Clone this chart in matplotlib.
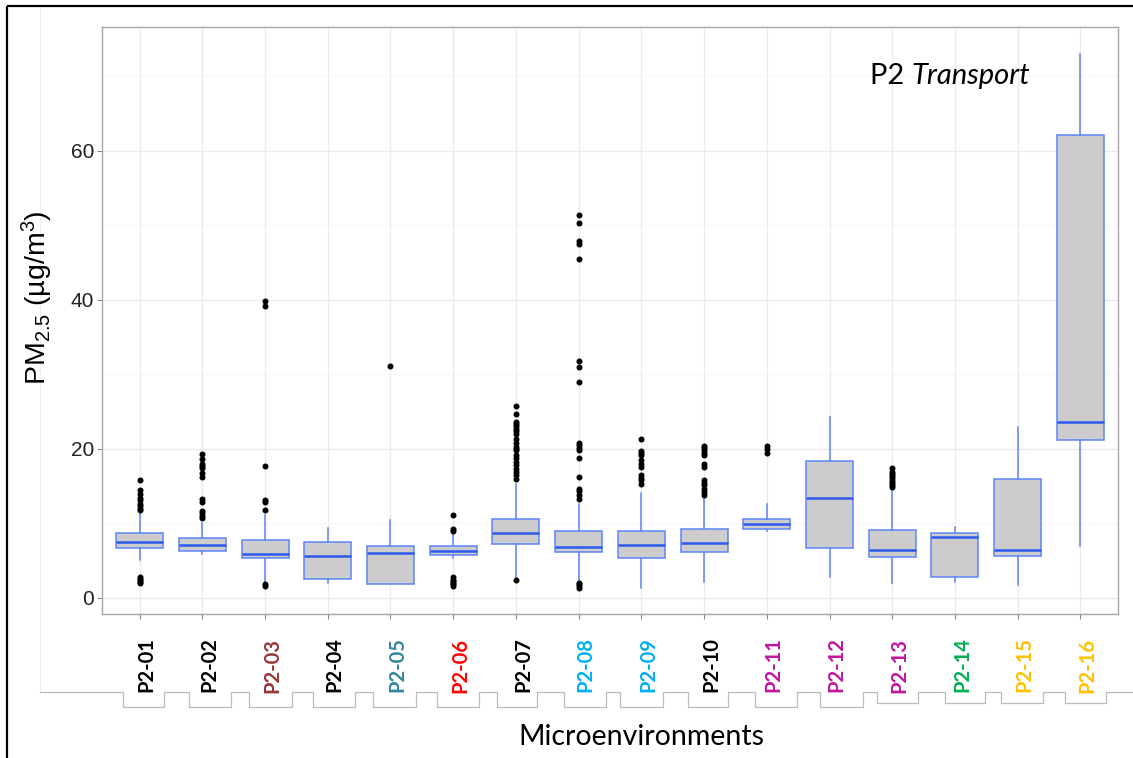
import numpy as np
import matplotlib
matplotlib.use("Agg")
import matplotlib.pyplot as plt
import matplotlib.transforms as mtransforms

plt.rcParams["mathtext.fontset"] = "custom"
plt.rcParams["mathtext.rm"] = "Liberation Sans"
plt.rcParams["mathtext.it"] = "Liberation Sans:italic"

# Microenvironment box statistics (PM2.5, ug/m3)
sites = ["P2-01", "P2-02", "P2-03", "P2-04", "P2-05", "P2-06", "P2-07", "P2-08",
         "P2-09", "P2-10", "P2-11", "P2-12", "P2-13", "P2-14", "P2-15", "P2-16"]
q1 = [6.62, 6.3, 5.3, 2.55, 1.79, 5.77, 7.16, 6.08, 5.28, 6.08, 9.2, 6.67, 5.41, 2.73, 5.64, 21.2]
med = [7.47, 7.1, 5.86, 5.64, 6.04, 6.3, 8.72, 6.85, 7.11, 7.38, 9.93, 13.33, 6.44, 8.19, 6.44, 23.6]
q3 = [8.64, 8.0, 7.7, 7.43, 6.9, 6.9, 10.56, 8.9, 8.9, 9.2, 10.56, 18.4, 9.08, 8.68, 15.97, 62.05]
whislo = [5.1, 5.8, 1.9, 2.0, 1.79, 5.37, 2.6, 1.9, 1.34, 2.1, 8.9, 2.77, 1.97, 2.1, 1.75, 6.9]
whishi = [11.4, 10.0, 11.1, 9.4, 10.47, 8.6, 15.3, 12.6, 14.1, 13.7, 12.6, 24.25, 14.6, 9.49, 22.9, 73.0]
fliers = [
    [15.75, 14.5, 13.9, 13.4, 13.1, 12.6, 12.3, 11.9, 11.7, 2.8, 2.5, 2.3, 2.1, 1.9],
    [19.3, 18.6, 18.0, 17.7, 17.4, 16.7, 16.2, 13.2, 12.9, 11.6, 11.3, 11.0, 10.7],
    [39.8, 39.2, 17.7, 13.1, 12.8, 11.8, 1.6, 1.8],
    [],
    [31.1],
    [11.1, 9.2, 8.9, 2.7, 2.4, 2.2, 2.0, 1.8, 1.6],
    [25.7, 24.7, 23.6, 23.3, 23.0, 22.7, 22.4, 22.0, 21.3, 20.7, 20.2, 20.0, 19.8,
     19.1, 18.7, 18.2, 17.8, 17.3, 16.9, 16.4, 15.9, 2.3],
    [51.4, 50.3, 47.9, 47.5, 45.5, 31.7, 31.0, 29.0, 20.8, 20.5, 20.1, 19.8, 18.7,
     16.2, 14.6, 14.3, 13.8, 13.3, 2.0, 1.8, 1.5, 1.3],
    [21.3, 19.7, 19.4, 19.1, 18.5, 18.0, 17.5, 16.4, 16.1, 15.75, 15.3],
    [20.4, 20.1, 19.8, 19.4, 19.1, 18.0, 17.6, 15.75, 15.4, 15.1, 14.6, 14.2, 13.8],
    [20.4, 20.0, 19.4],
    [],
    [17.4, 16.9, 16.6, 16.3, 16.0, 15.7, 15.4, 15.1, 14.8],
    [],
    [],
    [],
]
label_colors = ["#000000", "#000000", "#953735", "#000000", "#31859C", "#FF0000",
                "#000000", "#00B0F0", "#00B0F0", "#000000", "#C0169F", "#C0169F",
                "#C0169F", "#00B050", "#FFC000", "#FFC000"]
yticks = [0, 20, 40, 60]

W, H = 1133, 758
fig = plt.figure(figsize=(W / 100, H / 100), dpi=100)

# decorations of the pasted figure (frame, leftover lines)
deco = fig.add_axes([0, 0, 1, 1], zorder=0)
deco.set_xlim(0, W)
deco.set_ylim(H, 0)
deco.axis("off")
deco.plot([7, 7], [6, H], color="black", lw=1.6, solid_capstyle="butt")
deco.plot([7, W], [6, 6], color="black", lw=1.6, solid_capstyle="butt")
deco.plot([40, 40], [7, 692], color="#EEEEEE", lw=0.8)
steps = [40, 123, 164, 189, 231, 249, 292, 313, 355, 373, 416, 437, 479, 497, 537,
         564, 606, 620, 663, 688, 728, 755, 797, 820, 863, 877, 918, 945, 985,
         1001, 1043, 1065, 1106, 1133]
xs, ys = [], []
for i in range(len(steps) - 1):
    lev = 692 if i % 2 == 0 else (707 if steps[i] < 870 else 703)
    xs += [steps[i], steps[i + 1]]
    ys += [lev, lev]
deco.plot(xs, ys, color="#BBBBBB", lw=0.9)

ax = fig.add_axes([102 / W, (H - 614) / H, 1016 / W, 587 / H], zorder=1)
stats = []
for i in range(len(sites)):
    stats.append(dict(med=med[i], q1=q1[i], q3=q3[i], whislo=whislo[i],
                      whishi=whishi[i], fliers=fliers[i], label=sites[i]))
pos = np.arange(1, len(sites) + 1)
edge = "#5B85FA"
ax.bxp(stats, positions=pos, widths=0.75, patch_artist=True, showcaps=False,
       boxprops=dict(facecolor="#CCCCCC", edgecolor=edge, linewidth=1.1),
       whiskerprops=dict(color=edge, linewidth=1.1),
       medianprops=dict(color="#2C5AF0", linewidth=1.8),
       flierprops=dict(marker="o", markerfacecolor="black", markeredgecolor="black",
                       markersize=3.3, linestyle="none"),
       zorder=3)

ax.set_xlim(0.4, len(sites) + 0.6)
ax.set_ylim(-2.2, 76.6)
ax.set_yticks(yticks)
ax.set_yticks([10, 30, 50, 70], minor=True)
ax.grid(True, which="major", color="#EBEBEB", lw=1.0, zorder=0)
ax.grid(True, which="minor", axis="y", color="#F4F4F4", lw=0.6, zorder=0)
ax.set_axisbelow(True)
for sp in ax.spines.values():
    sp.set_color("#A6A6A6")
    sp.set_linewidth(1.0)
ax.tick_params(axis="both", which="major", color="#888888", length=3.5, width=0.8)
ax.tick_params(axis="y", which="minor", length=0)
ax.tick_params(axis="y", labelsize=15, labelcolor="#222222", pad=2)
for t in ax.get_yticklabels():
    t.set_fontfamily("Liberation Sans")

ax.set_xticks(pos)
ax.set_xticklabels(sites, rotation=90, fontfamily="Lato", fontweight="bold",
                   fontsize=14.5, va="top", ha="center")
ax.tick_params(axis="x", pad=13.5)
shift = mtransforms.ScaledTranslation(7 / 100, 0, fig.dpi_scale_trans)
for t, c in zip(ax.get_xticklabels(), label_colors):
    t.set_color(c)
    t.set_transform(t.get_transform() + shift)

fig.text(37 / W, 1 - 298 / H, r"PM$_{2.5}$ (µg/m$^3$)", rotation=90,
         ha="center", va="center", fontsize=20.5, fontfamily="Liberation Sans")
fig.text(641 / W, 1 - 737 / H, "Microenvironments", ha="center", va="center",
         fontsize=20.5, fontfamily="Lato")

t1 = ax.text(0.756, 0.903, "P2 ", transform=ax.transAxes, fontsize=21,
             fontfamily="Lato", va="baseline", ha="left")
ax.annotate("Transport", xy=(1, 0), xycoords=t1, va="bottom", ha="left",
            fontsize=21, fontfamily="Lato", fontstyle="italic")

fig.savefig("out.png", dpi=100)
